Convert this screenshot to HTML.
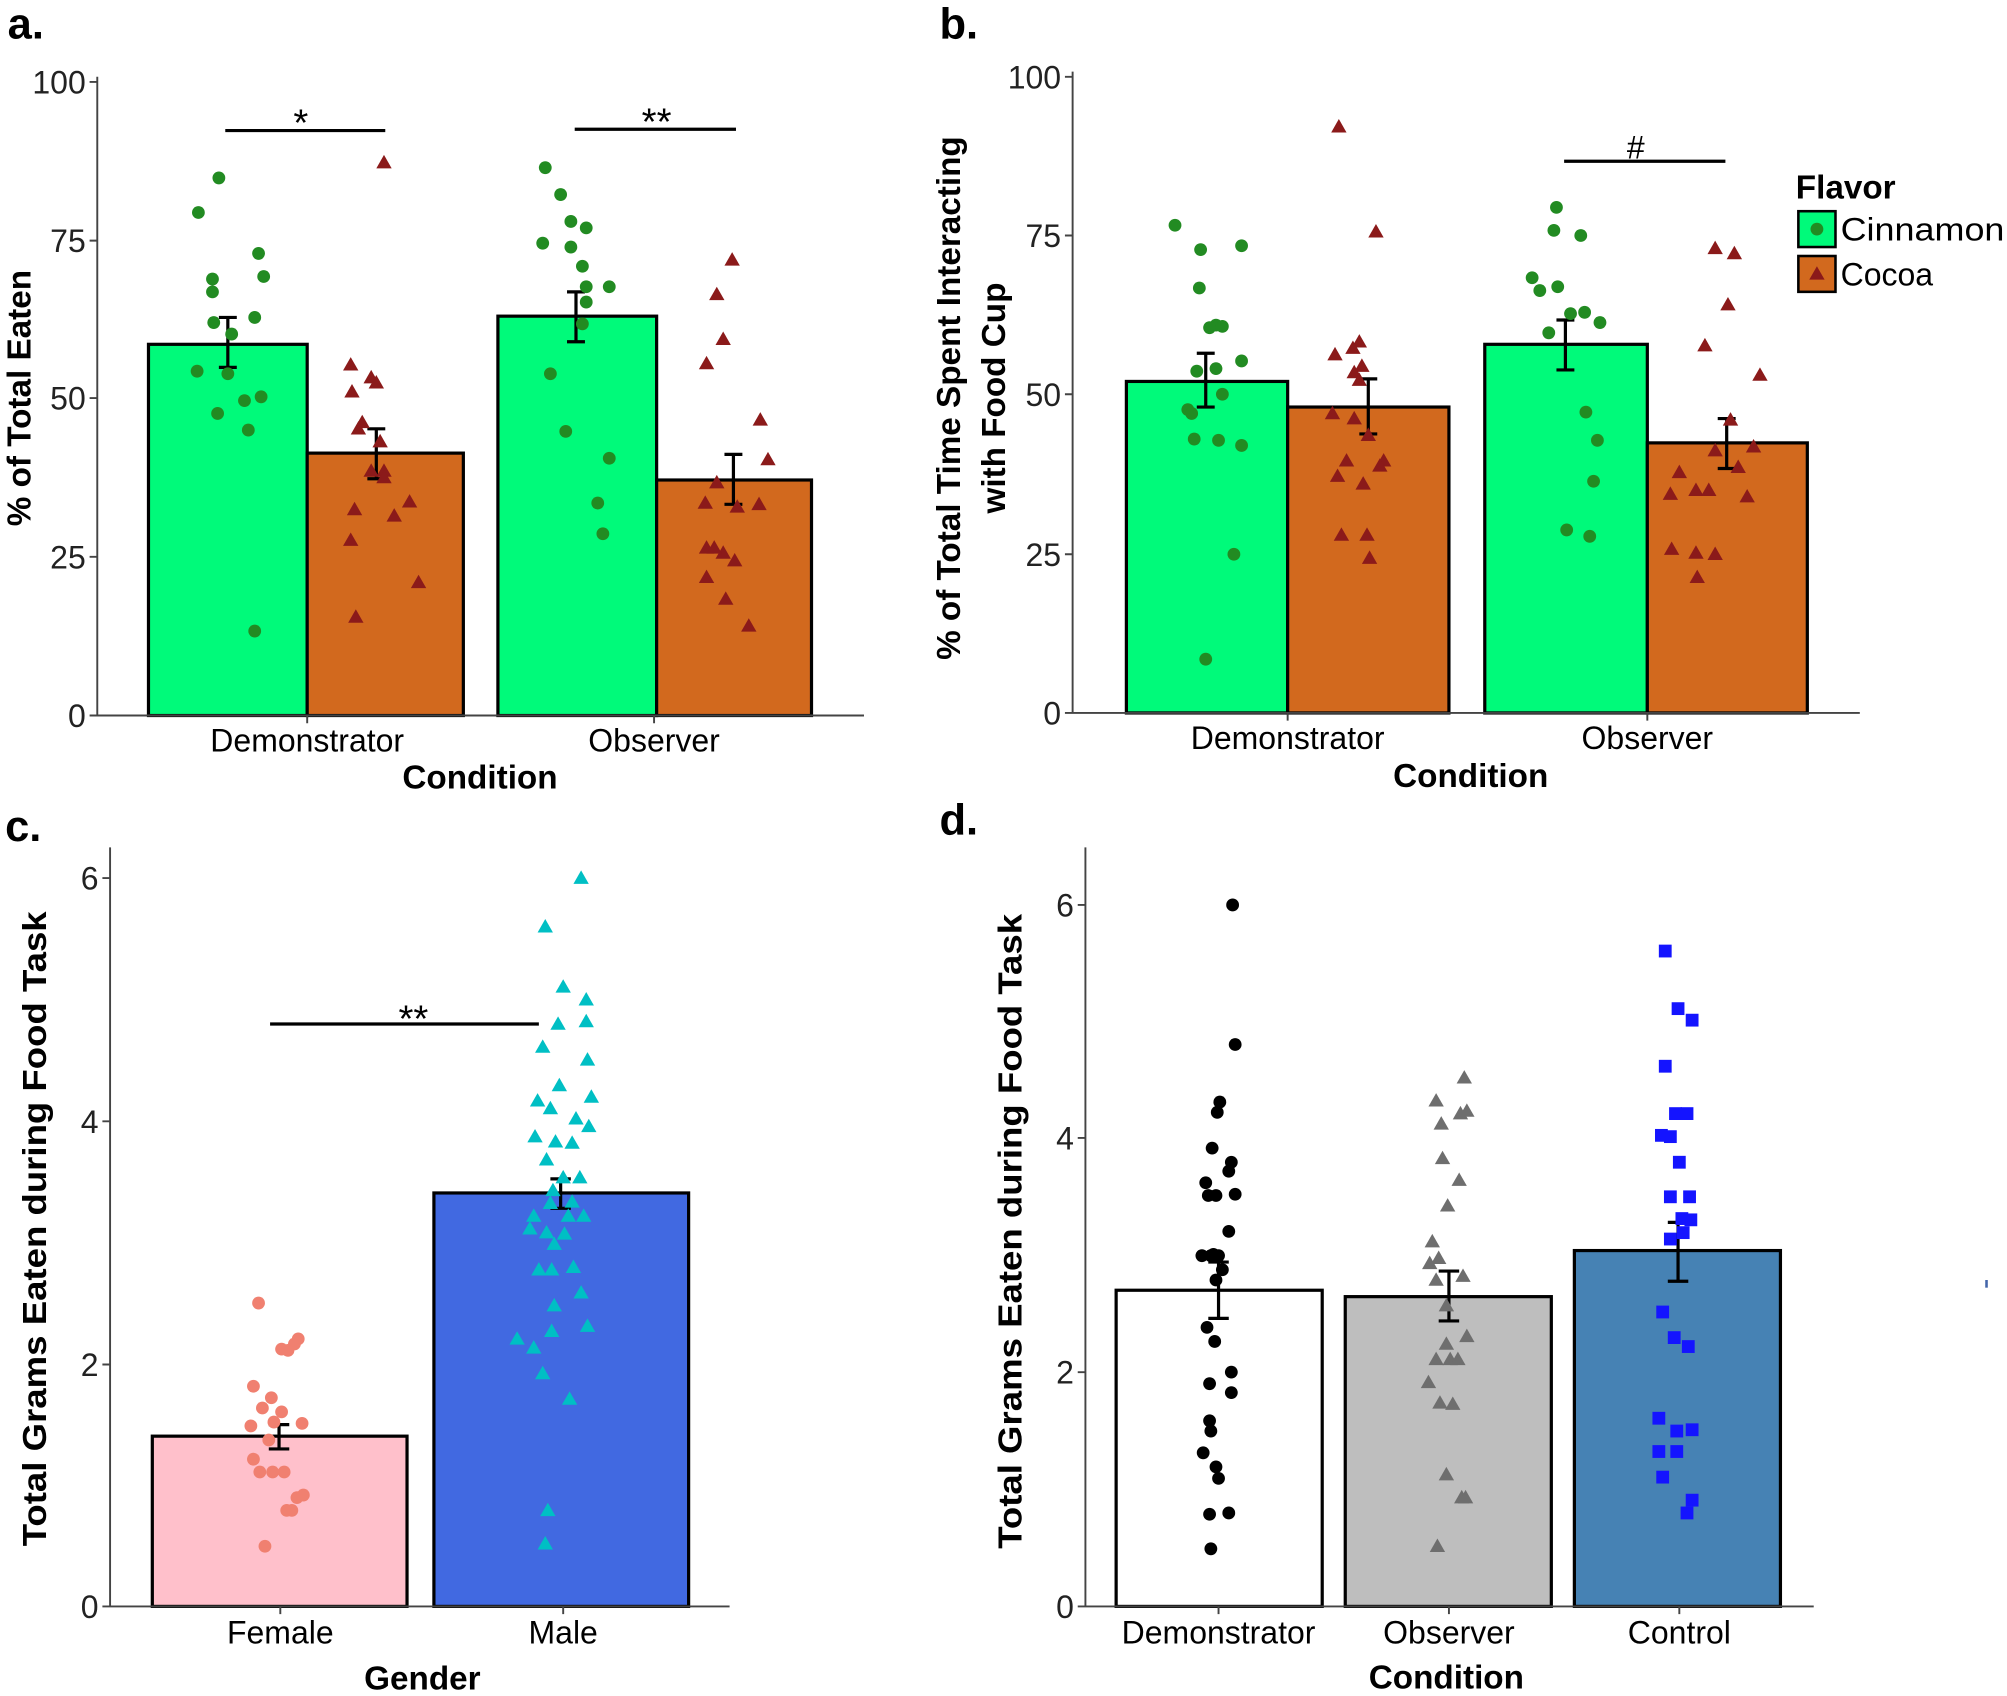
<!DOCTYPE html>
<html><head><meta charset="utf-8"><style>
html,body{margin:0;padding:0;background:#fff}
svg{display:block}
text{font-family:"Liberation Sans",Arial,sans-serif;fill:#000}
.tk{font-size:25px;fill:#222}
.xl{font-size:25px}
.ax{font-size:26px;font-weight:bold}
.ast{font-size:30px}
.pl{font-size:34px;font-weight:bold}
.bar{stroke:#000;stroke-width:2.5}
.axl{stroke:#444;stroke-width:1.5;fill:none}
.eb{stroke:#000;stroke-width:2.5;fill:none}
</style></head><body>
<svg width="2007" height="1696" viewBox="0 0 1568 1325" preserveAspectRatio="none" xmlns="http://www.w3.org/2000/svg">
<defs>
<circle id="c" r="5"/>
<path id="t" d="M0,-6 L6,4.5 L-6,4.5Z"/>
<rect id="s" x="-5" y="-5" width="10" height="10"/>
</defs>
<text class="pl" x="6" y="30">a.</text>
<text class="pl" x="734" y="30">b.</text>
<text class="pl" x="4" y="657">c.</text>
<text class="pl" x="734" y="652">d.</text>

<!-- Panel a -->
<g>
<rect class="bar" x="116" y="269" width="124" height="290" fill="#00FA7A"/>
<rect class="bar" x="240" y="354" width="122" height="205" fill="#D2691E"/>
<rect class="bar" x="389" y="247" width="124" height="312" fill="#00FA7A"/>
<rect class="bar" x="513" y="375" width="121" height="184" fill="#D2691E"/>
<path class="axl" d="M76,60 V559 H675 M70,64H76 M70,188H76 M70,311H76 M70,435H76 M70,559H76 M240,559v6 M511,559v6"/>
<text class="tk" x="67" y="73" text-anchor="end">100</text>
<text class="tk" x="67" y="197" text-anchor="end">75</text>
<text class="tk" x="67" y="320" text-anchor="end">50</text>
<text class="tk" x="67" y="444" text-anchor="end">25</text>
<text class="tk" x="67" y="568" text-anchor="end">0</text>
<text class="xl" x="240" y="587" text-anchor="middle">Demonstrator</text>
<text class="xl" x="511" y="587" text-anchor="middle">Observer</text>
<text class="ax" x="375" y="616" text-anchor="middle">Condition</text>
<text class="ax" transform="translate(24,311) rotate(-90)" text-anchor="middle">% of Total Eaten</text>
<path class="eb" d="M176,102H301 M449,101H575"/>
<text class="ast" x="235" y="106" text-anchor="middle">*</text>
<text class="ast" x="513" y="105" text-anchor="middle">**</text>
<path class="eb" d="M171,248H185 M178,248V287 M171,287H185 M287,335H301 M294,335V374 M287,374H301 M443,228H457 M450,228V267 M443,267H457 M566,355H580 M573,355V394 M566,394H580"/>
<g fill="#228B22">
<use href="#c" x="155" y="166"/><use href="#c" x="171" y="139"/><use href="#c" x="166" y="218"/><use href="#c" x="166" y="228"/><use href="#c" x="202" y="198"/><use href="#c" x="206" y="216"/><use href="#c" x="167" y="252"/><use href="#c" x="181" y="261"/><use href="#c" x="199" y="248"/><use href="#c" x="154" y="290"/><use href="#c" x="178" y="292"/><use href="#c" x="170" y="323"/><use href="#c" x="191" y="313"/><use href="#c" x="204" y="310"/><use href="#c" x="194" y="336"/><use href="#c" x="199" y="493"/>
<use href="#c" x="426" y="131"/><use href="#c" x="438" y="152"/><use href="#c" x="446" y="173"/><use href="#c" x="458" y="178"/><use href="#c" x="424" y="190"/><use href="#c" x="446" y="193"/><use href="#c" x="455" y="208"/><use href="#c" x="458" y="224"/><use href="#c" x="476" y="224"/><use href="#c" x="458" y="236"/><use href="#c" x="455" y="253"/><use href="#c" x="430" y="292"/><use href="#c" x="442" y="337"/><use href="#c" x="476" y="358"/><use href="#c" x="467" y="393"/><use href="#c" x="471" y="417"/>
</g>
<g fill="#8B1A1A">
<use href="#t" x="300" y="127"/><use href="#t" x="274" y="285"/><use href="#t" x="290" y="295"/><use href="#t" x="294" y="299"/><use href="#t" x="275" y="306"/><use href="#t" x="283" y="330"/><use href="#t" x="280" y="335"/><use href="#t" x="297" y="345"/><use href="#t" x="290" y="368"/><use href="#t" x="300" y="368"/><use href="#t" x="300" y="373"/><use href="#t" x="320" y="392"/><use href="#t" x="277" y="398"/><use href="#t" x="308" y="403"/><use href="#t" x="274" y="422"/><use href="#t" x="327" y="455"/><use href="#t" x="278" y="482"/>
<use href="#t" x="572" y="203"/><use href="#t" x="560" y="230"/><use href="#t" x="565" y="265"/><use href="#t" x="552" y="284"/><use href="#t" x="594" y="328"/><use href="#t" x="600" y="359"/><use href="#t" x="560" y="377"/><use href="#t" x="551" y="393"/><use href="#t" x="576" y="396"/><use href="#t" x="593" y="394"/><use href="#t" x="565" y="432"/><use href="#t" x="552" y="428"/><use href="#t" x="558" y="428"/><use href="#t" x="574" y="438"/><use href="#t" x="552" y="451"/><use href="#t" x="567" y="468"/><use href="#t" x="585" y="489"/>
</g>
</g>

<!-- Panel b -->
<g>
<rect class="bar" x="880" y="298" width="126" height="259" fill="#00FA7A"/>
<rect class="bar" x="1006" y="318" width="126" height="239" fill="#D2691E"/>
<rect class="bar" x="1160" y="269" width="127" height="288" fill="#00FA7A"/>
<rect class="bar" x="1287" y="346" width="125" height="211" fill="#D2691E"/>
<path class="axl" d="M838,56 V557 H1453 M832,60H838 M832,184H838 M832,308H838 M832,433H838 M832,557H838 M1006,557v6 M1287,557v6"/>
<text class="tk" x="829" y="69" text-anchor="end">100</text>
<text class="tk" x="829" y="193" text-anchor="end">75</text>
<text class="tk" x="829" y="317" text-anchor="end">50</text>
<text class="tk" x="829" y="442" text-anchor="end">25</text>
<text class="tk" x="829" y="566" text-anchor="end">0</text>
<text class="xl" x="1006" y="585" text-anchor="middle">Demonstrator</text>
<text class="xl" x="1287" y="585" text-anchor="middle">Observer</text>
<text class="ax" x="1149" y="615" text-anchor="middle">Condition</text>
<text class="ax" transform="translate(750,311) rotate(-90)" text-anchor="middle">% of Total Time Spent Interacting</text>
<text class="ax" transform="translate(785,311) rotate(-90)" text-anchor="middle">with Food Cup</text>
<path class="eb" d="M1222,126H1348"/>
<text class="xl" x="1278" y="124" text-anchor="middle">#</text>
<path class="eb" d="M935,276H949 M942,276V318 M935,318H949 M1062,296H1076 M1069,296V339 M1062,339H1076 M1216,250H1230 M1223,250V289 M1216,289H1230 M1342,327H1356 M1349,327V366 M1342,366H1356"/>
<g fill="#228B22">
<use href="#c" x="918" y="176"/><use href="#c" x="938" y="195"/><use href="#c" x="970" y="192"/><use href="#c" x="937" y="225"/><use href="#c" x="950" y="254"/><use href="#c" x="955" y="255"/><use href="#c" x="945" y="256"/><use href="#c" x="970" y="282"/><use href="#c" x="935" y="290"/><use href="#c" x="950" y="288"/><use href="#c" x="928" y="320"/><use href="#c" x="955" y="308"/><use href="#c" x="931" y="323"/><use href="#c" x="933" y="343"/><use href="#c" x="952" y="344"/><use href="#c" x="970" y="348"/><use href="#c" x="964" y="433"/><use href="#c" x="942" y="515"/>
<use href="#c" x="1216" y="162"/><use href="#c" x="1214" y="180"/><use href="#c" x="1235" y="184"/><use href="#c" x="1197" y="217"/><use href="#c" x="1203" y="227"/><use href="#c" x="1217" y="224"/><use href="#c" x="1238" y="244"/><use href="#c" x="1250" y="252"/><use href="#c" x="1227" y="245"/><use href="#c" x="1210" y="260"/><use href="#c" x="1239" y="322"/><use href="#c" x="1248" y="344"/><use href="#c" x="1245" y="376"/><use href="#c" x="1224" y="414"/><use href="#c" x="1242" y="419"/>
</g>
<g fill="#8B1A1A">
<use href="#t" x="1046" y="99"/><use href="#t" x="1075" y="181"/><use href="#t" x="1057" y="272"/><use href="#t" x="1043" y="277"/><use href="#t" x="1062" y="267"/><use href="#t" x="1064" y="286"/><use href="#t" x="1058" y="291"/><use href="#t" x="1062" y="297"/><use href="#t" x="1041" y="323"/><use href="#t" x="1058" y="327"/><use href="#t" x="1069" y="340"/><use href="#t" x="1081" y="360"/><use href="#t" x="1078" y="364"/><use href="#t" x="1052" y="360"/><use href="#t" x="1045" y="372"/><use href="#t" x="1065" y="378"/><use href="#t" x="1048" y="418"/><use href="#t" x="1068" y="418"/><use href="#t" x="1070" y="436"/>
<use href="#t" x="1340" y="194"/><use href="#t" x="1355" y="198"/><use href="#t" x="1350" y="238"/><use href="#t" x="1332" y="270"/><use href="#t" x="1375" y="293"/><use href="#t" x="1352" y="328"/><use href="#t" x="1340" y="352"/><use href="#t" x="1370" y="349"/><use href="#t" x="1358" y="365"/><use href="#t" x="1312" y="369"/><use href="#t" x="1325" y="383"/><use href="#t" x="1335" y="383"/><use href="#t" x="1365" y="388"/><use href="#t" x="1305" y="386"/><use href="#t" x="1325" y="432"/><use href="#t" x="1306" y="429"/><use href="#t" x="1340" y="433"/><use href="#t" x="1326" y="451"/>
</g>
<text class="ax" x="1403" y="155">Flavor</text>
<rect x="1405" y="165" width="29" height="28" fill="#00FA7A" stroke="#000" stroke-width="2"/>
<rect x="1405" y="200" width="29" height="28" fill="#D2691E" stroke="#000" stroke-width="2"/>
<circle cx="1419.5" cy="179" r="5" fill="#228B22"/>
<path d="M1419.5,208 l6,10.5 h-12z" fill="#8B1A1A"/>
<text class="xl" x="1438" y="188" textLength="128" lengthAdjust="spacingAndGlyphs">Cinnamon</text>
<text class="xl" x="1438" y="223">Cocoa</text>
</g>

<!-- Panel c -->
<g>
<rect class="bar" x="119" y="1122" width="199" height="133" fill="#FFC0CB"/>
<rect class="bar" x="339" y="932" width="199" height="323" fill="#4169E1"/>
<path class="axl" d="M86,662 V1255 H570 M80,686H86 M80,876H86 M80,1066H86 M80,1255H86 M219,1255v6 M440,1255v6"/>
<text class="tk" x="77" y="695" text-anchor="end">6</text>
<text class="tk" x="77" y="885" text-anchor="end">4</text>
<text class="tk" x="77" y="1075" text-anchor="end">2</text>
<text class="tk" x="77" y="1264" text-anchor="end">0</text>
<text class="xl" x="219" y="1284" text-anchor="middle">Female</text>
<text class="xl" x="440" y="1284" text-anchor="middle">Male</text>
<text class="ax" x="330" y="1320" text-anchor="middle">Gender</text>
<text class="ax" transform="translate(36,960) rotate(-90)" text-anchor="middle" textLength="496" lengthAdjust="spacingAndGlyphs">Total Grams Eaten during Food Task</text>
<path class="eb" d="M211,800H421"/>
<text class="ast" x="323" y="806" text-anchor="middle">**</text>
<path class="eb" d="M210,1113H226 M218,1113V1132 M210,1132H226 M430,921H446 M438,921V944 M430,944H446"/>
<g fill="#F08070">
<use href="#c" x="202" y="1018"/><use href="#c" x="233" y="1046"/><use href="#c" x="220" y="1054"/><use href="#c" x="225" y="1055"/><use href="#c" x="230" y="1050"/><use href="#c" x="198" y="1083"/><use href="#c" x="212" y="1092"/><use href="#c" x="205" y="1100"/><use href="#c" x="220" y="1103"/><use href="#c" x="214" y="1111"/><use href="#c" x="196" y="1114"/><use href="#c" x="236" y="1112"/><use href="#c" x="210" y="1125"/><use href="#c" x="198" y="1140"/><use href="#c" x="203" y="1150"/><use href="#c" x="213" y="1150"/><use href="#c" x="222" y="1150"/><use href="#c" x="237" y="1168"/><use href="#c" x="232" y="1170"/><use href="#c" x="228" y="1180"/><use href="#c" x="224" y="1180"/><use href="#c" x="207" y="1208"/>
</g>
<g fill="#00BFC4">
<use href="#t" x="454" y="686"/><use href="#t" x="426" y="724"/><use href="#t" x="440" y="771"/><use href="#t" x="458" y="781"/><use href="#t" x="436" y="800"/><use href="#t" x="458" y="798"/><use href="#t" x="424" y="818"/><use href="#t" x="459" y="828"/><use href="#t" x="437" y="848"/><use href="#t" x="420" y="860"/><use href="#t" x="462" y="857"/><use href="#t" x="430" y="866"/><use href="#t" x="450" y="874"/><use href="#t" x="418" y="888"/><use href="#t" x="434" y="892"/><use href="#t" x="447" y="893"/><use href="#t" x="460" y="880"/><use href="#t" x="427" y="906"/><use href="#t" x="440" y="920"/><use href="#t" x="453" y="920"/><use href="#t" x="432" y="930"/><use href="#t" x="430" y="940"/><use href="#t" x="447" y="939"/><use href="#t" x="417" y="950"/><use href="#t" x="444" y="950"/><use href="#t" x="456" y="950"/><use href="#t" x="414" y="960"/><use href="#t" x="427" y="963"/><use href="#t" x="441" y="964"/><use href="#t" x="433" y="972"/><use href="#t" x="421" y="992"/><use href="#t" x="431" y="992"/><use href="#t" x="448" y="990"/><use href="#t" x="454" y="1010"/><use href="#t" x="433" y="1020"/><use href="#t" x="459" y="1036"/><use href="#t" x="431" y="1040"/><use href="#t" x="404" y="1046"/><use href="#t" x="417" y="1053"/><use href="#t" x="424" y="1073"/><use href="#t" x="445" y="1093"/><use href="#t" x="428" y="1180"/><use href="#t" x="426" y="1206"/>
</g>
</g>

<!-- Panel d -->
<g>
<rect class="bar" x="872" y="1008" width="161" height="247" fill="#FFFFFF"/>
<rect class="bar" x="1051" y="1013" width="161" height="242" fill="#BEBEBE"/>
<rect class="bar" x="1230" y="977" width="161" height="278" fill="#4682B4"/>
<path class="axl" d="M848,662 V1255 H1417 M842,707H848 M842,889H848 M842,1072H848 M842,1255H848 M952,1255v6 M1132,1255v6 M1312,1255v6"/>
<text class="tk" x="839" y="716" text-anchor="end">6</text>
<text class="tk" x="839" y="898" text-anchor="end">4</text>
<text class="tk" x="839" y="1081" text-anchor="end">2</text>
<text class="tk" x="839" y="1264" text-anchor="end">0</text>
<text class="xl" x="952" y="1284" text-anchor="middle">Demonstrator</text>
<text class="xl" x="1132" y="1284" text-anchor="middle">Observer</text>
<text class="xl" x="1312" y="1284" text-anchor="middle">Control</text>
<text class="ax" x="1130" y="1319" text-anchor="middle">Condition</text>
<text class="ax" transform="translate(798,962) rotate(-90)" text-anchor="middle" textLength="496" lengthAdjust="spacingAndGlyphs">Total Grams Eaten during Food Task</text>
<path class="eb" d="M944,986H960 M952,986V1030 M944,1030H960 M1124,993H1140 M1132,993V1032 M1124,1032H1140 M1303,955H1319 M1311,955V1001 M1303,1001H1319"/>
<g fill="#000">
<use href="#c" x="963" y="707"/><use href="#c" x="965" y="816"/><use href="#c" x="953" y="861"/><use href="#c" x="951" y="869"/><use href="#c" x="947" y="897"/><use href="#c" x="962" y="908"/><use href="#c" x="960" y="915"/><use href="#c" x="942" y="924"/><use href="#c" x="944" y="934"/><use href="#c" x="950" y="934"/><use href="#c" x="965" y="933"/><use href="#c" x="960" y="962"/><use href="#c" x="948" y="980"/><use href="#c" x="939" y="981"/><use href="#c" x="946" y="981"/><use href="#c" x="952" y="981"/><use href="#c" x="955" y="992"/><use href="#c" x="950" y="1000"/><use href="#c" x="943" y="1037"/><use href="#c" x="949" y="1048"/><use href="#c" x="962" y="1072"/><use href="#c" x="945" y="1081"/><use href="#c" x="962" y="1088"/><use href="#c" x="945" y="1110"/><use href="#c" x="946" y="1118"/><use href="#c" x="940" y="1135"/><use href="#c" x="950" y="1146"/><use href="#c" x="952" y="1155"/><use href="#c" x="960" y="1182"/><use href="#c" x="945" y="1183"/><use href="#c" x="946" y="1210"/>
</g>
<g fill="#6E6E6E">
<use href="#t" x="1144" y="842"/><use href="#t" x="1122" y="860"/><use href="#t" x="1141" y="870"/><use href="#t" x="1126" y="878"/><use href="#t" x="1146" y="868"/><use href="#t" x="1127" y="905"/><use href="#t" x="1140" y="922"/><use href="#t" x="1131" y="942"/><use href="#t" x="1119" y="970"/><use href="#t" x="1124" y="983"/><use href="#t" x="1117" y="987"/><use href="#t" x="1122" y="1000"/><use href="#t" x="1143" y="997"/><use href="#t" x="1130" y="1020"/><use href="#t" x="1146" y="1044"/><use href="#t" x="1130" y="1050"/><use href="#t" x="1122" y="1062"/><use href="#t" x="1133" y="1062"/><use href="#t" x="1139" y="1062"/><use href="#t" x="1116" y="1080"/><use href="#t" x="1125" y="1096"/><use href="#t" x="1135" y="1097"/><use href="#t" x="1130" y="1152"/><use href="#t" x="1142" y="1170"/><use href="#t" x="1145" y="1170"/><use href="#t" x="1123" y="1208"/>
</g>
<g fill="#1414FF">
<use href="#s" x="1301" y="743"/><use href="#s" x="1311" y="788"/><use href="#s" x="1322" y="797"/><use href="#s" x="1301" y="833"/><use href="#s" x="1309" y="870"/><use href="#s" x="1318" y="870"/><use href="#s" x="1298" y="887"/><use href="#s" x="1305" y="888"/><use href="#s" x="1312" y="908"/><use href="#s" x="1305" y="935"/><use href="#s" x="1320" y="935"/><use href="#s" x="1314" y="952"/><use href="#s" x="1321" y="953"/><use href="#s" x="1305" y="968"/><use href="#s" x="1315" y="963"/><use href="#s" x="1299" y="1025"/><use href="#s" x="1308" y="1045"/><use href="#s" x="1319" y="1052"/><use href="#s" x="1296" y="1108"/><use href="#s" x="1310" y="1118"/><use href="#s" x="1322" y="1117"/><use href="#s" x="1296" y="1134"/><use href="#s" x="1310" y="1134"/><use href="#s" x="1299" y="1154"/><use href="#s" x="1322" y="1172"/><use href="#s" x="1318" y="1182"/>
</g>
<rect x="1551" y="1000" width="2" height="6" fill="#4466aa"/>
</g>
</svg>
</body></html>
